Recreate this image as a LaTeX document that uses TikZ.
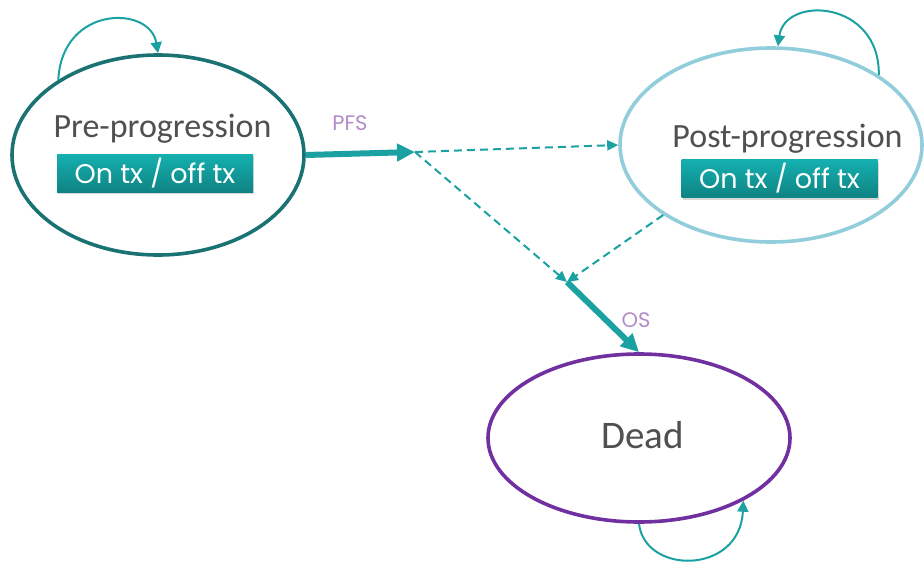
\documentclass[tikz,border=0pt]{standalone}
\usepackage{fontspec}
\setmainfont{Carlito}
\newfontfamily\geofont{Poppins}
\usetikzlibrary{arrows.meta,shapes.geometric,shadows}
\definecolor{preC}{HTML}{1B7273}
\definecolor{postC}{HTML}{92CDDC}
\definecolor{deadC}{HTML}{7030A0}
\definecolor{arrC}{HTML}{1BA1A2}
\definecolor{lblC}{HTML}{B28BC8}
\definecolor{txtC}{HTML}{505050}
\definecolor{boxTop}{HTML}{15B0B0}
\definecolor{boxBot}{HTML}{0F8383}
\tikzset{
  state/.style={ellipse, line width=3.6pt, inner sep=0pt, fill=white},
  txbox/.style={rectangle, inner sep=0pt, minimum width=196pt, minimum height=38pt,
    top color=boxTop, bottom color=boxBot, draw=none,
    drop shadow={opacity=0.3, shadow xshift=1pt, shadow yshift=-2pt},
    text=white, font=\geofont\fontsize{27}{30}\selectfont},
  stxt/.style={text=txtC, anchor=base, inner sep=0pt},
  lbl/.style={text=lblC, anchor=base, inner sep=0pt, font=\geofont\fontsize{21}{24}\selectfont},
  thick arrow/.style={draw=arrC, line width=6pt, -{Triangle[length=18pt,width=17pt]}},
  dash arrow/.style={draw=arrC, line width=2pt, dash pattern=on 8pt off 5pt, -{Triangle[length=11pt,width=10pt]}},
  loop arrow/.style={draw=arrC, line width=2pt, -{Triangle[length=11pt,width=11pt]}},
}
\begin{document}
\begin{tikzpicture}[x=1pt,y=-1pt]
\useasboundingbox (0,0) rectangle (924,562);
\node[state, draw=preC, minimum width=292pt, minimum height=200pt] (pre) at (158,155) {};
\node[state, draw=postC, minimum width=302pt, minimum height=194pt] (post) at (771,145) {};
\node[state, draw=deadC, minimum width=302pt, minimum height=168pt] (dead) at (639,438) {};

\node[stxt, font=\fontsize{34}{38}\selectfont] (pret) at (162.5,137) {Pre-progression};
\node[stxt, font=\fontsize{34}{38}\selectfont] (postt) at (787.5,147) {Post-progression};
\node[stxt, font=\fontsize{39}{44}\selectfont] (deadt) at (642.5,448) {Dead};

\node[txbox] (prebox) at (155,173) {On tx / off tx};
\node[txbox] (postbox) at (779.5,178.5) {On tx / off tx};

\coordinate (j1) at (415,152);
\coordinate (j2) at (567,282);

\draw[thick arrow] (pre.east) -- (j1);
\draw[dash arrow] (j1) -- (post.west);
\draw[dash arrow] (j1) -- (j2);
\draw[dash arrow] (post.213) -- (j2);
\draw[thick arrow] (j2) -- (dead.north);

\node[lbl] (pfs) at (350,130) {PFS};
\node[lbl] (os) at (636,327) {OS};

\draw[loop arrow] (pre.143) .. controls (62,5) and (150,5) .. (pre.north);
\draw[loop arrow] (post.33) .. controls (880,0) and (785,-5) .. (post.86);
\draw[loop arrow] (dead.south) .. controls (645,575) and (740,575) .. (dead.-31);
\end{tikzpicture}
\end{document}
